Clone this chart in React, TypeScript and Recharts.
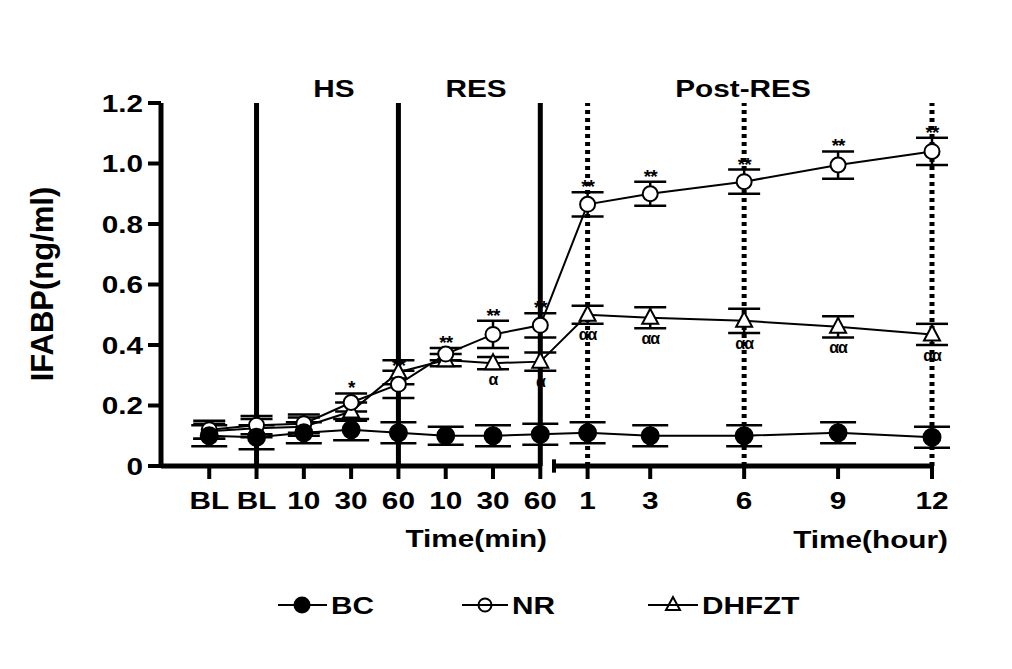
import { LineChart, Line, XAxis, YAxis, ErrorBar, ReferenceLine, Legend, LabelList, Customized } from "recharts"

// time points: minutes (categorical steps), then hours (linear)
const minuteLabels = ["BL", "BL", "10", "30", "60", "10", "30", "60"]
const hourTicks = [1, 3, 6, 9, 12]

const bcValues = [0.1, 0.095, 0.11, 0.12, 0.11, 0.1, 0.1, 0.105, 0.11, 0.1, 0.1, 0.11, 0.095]
const bcErrors = [0.035, 0.04, 0.035, 0.035, 0.035, 0.03, 0.035, 0.035, 0.035, 0.035, 0.035, 0.035, 0.035]

const nrValues = [0.12, 0.135, 0.14, 0.21, 0.27, 0.37, 0.435, 0.465, 0.865, 0.9, 0.94, 0.995, 1.04]
const nrErrors = [0.03, 0.03, 0.03, 0.03, 0.045, 0.02, 0.045, 0.04, 0.04, 0.04, 0.04, 0.045, 0.045]

const dhValues = [0.115, 0.125, 0.13, 0.18, 0.31, 0.35, 0.34, 0.345, 0.5, 0.49, 0.48, 0.46, 0.435]
const dhErrors = [0.025, 0.03, 0.03, 0.03, 0.04, 0.02, 0.02, 0.03, 0.03, 0.035, 0.04, 0.035, 0.035]

const nrMarks = ["", "", "", "*", "**", "**", "**", "**", "**", "**", "**", "**", "**"]
const dhMarks = ["", "", "", "", "", "", "α", "α", "αα", "αα", "αα", "αα", "αα"]

const HOUR_STEP = 0.662
const hourPos = (h: number) => minuteLabels.length + (h - 1) * HOUR_STEP

const positions = [...minuteLabels.map((_, i) => i), ...hourTicks.map(hourPos)]
const tickLabels = [...minuteLabels, ...hourTicks.map(String)]

const data = positions.map((pos, i) => ({
  pos,
  bc: bcValues[i],
  bcErr: bcErrors[i],
  nr: nrValues[i],
  nrErr: nrErrors[i],
  nrTop: nrValues[i] + nrErrors[i],
  nrMark: nrMarks[i],
  dh: dhValues[i],
  dhErr: dhErrors[i],
  dhBottom: dhValues[i] - dhErrors[i],
  dhMark: dhMarks[i],
}))

const FONT = "Arial, 'Liberation Sans', sans-serif"
const SX = 1.24

const SText = ({ x, y, anchor = "middle", size = 24, children }: any) => (
  <text
    transform={`translate(${x},${y}) scale(${SX},1)`}
    textAnchor={anchor}
    fontSize={size}
    fontFamily={FONT}
    fontWeight="bold"
    fill="#000"
  >
    {children}
  </text>
)

const XTick = ({ x, y, payload }: any) => {
  const idx = positions.findIndex((p) => Math.abs(p - payload.value) < 1e-6)
  return <SText x={x} y={y + 28}>{tickLabels[idx]}</SText>
}

const YTick = ({ x, y, payload }: any) => (
  <SText x={x} y={y + 8.5} anchor="end">
    {payload.value === 0 ? "0" : payload.value.toFixed(1)}
  </SText>
)

const TriangleDot = ({ cx, cy }: any) => {
  if (cx == null || cy == null) return null
  return (
    <polygon
      points={`${cx},${cy - 9} ${cx - 8},${cy + 6} ${cx + 8},${cy + 6}`}
      fill="#fff"
      stroke="#000"
      strokeWidth={2}
    />
  )
}

const MarkAbove = ({ x, y, value }: any) =>
  value ? (
    <text x={x} y={y + 1} textAnchor="middle" fontSize={19} fontWeight="bold" fontFamily={FONT} fill="#000" letterSpacing={-1}>
      {value}
    </text>
  ) : null

const MarkBelow = ({ x, y, value }: any) =>
  value ? (
    <text x={x} y={y + 16} textAnchor="middle" fontSize={16} fontWeight="bold" fontFamily={FONT} fill="#000" letterSpacing={-1}>
      {value}
    </text>
  ) : null

const Titles = () => (
  <g>
    <SText x={334} y={97}>HS</SText>
    <SText x={476} y={97}>RES</SText>
    <SText x={743} y={97}>Post-RES</SText>
    <SText x={547} y={547} anchor="end">Time(min)</SText>
    <SText x={948} y={548} anchor="end">Time(hour)</SText>
    <text
      transform="translate(53,284) rotate(-90)"
      textAnchor="middle"
      fontSize={31}
      fontFamily={FONT}
      fontWeight="bold"
      fill="#000"
    >
      IFABP(ng/ml)
    </text>
  </g>
)

const LegendBox = () => (
  <svg width={1012} height={40} style={{ display: "block" }}>
    <line x1={278} x2={327} y1={20} y2={20} stroke="#000" strokeWidth={2} />
    <circle cx={302} cy={20} r={8.5} fill="#000" />
    <SText x={331} y={29} anchor="start">BC</SText>
    <line x1={462} x2={508} y1={20} y2={20} stroke="#000" strokeWidth={2} />
    <circle cx={485} cy={20} r={6.5} fill="none" stroke="#000" strokeWidth={2} />
    <SText x={512} y={29} anchor="start">NR</SText>
    <line x1={648} x2={698} y1={20} y2={20} stroke="#000" strokeWidth={2} />
    <polygon points="673,12 666,25 680,25" fill="none" stroke="#000" strokeWidth={2} />
    <SText x={702} y={29} anchor="start">DHFZT</SText>
  </svg>
)

export default function App() {
  return (
    <div style={{ position: "absolute", left: 0, top: 0, width: 1012, height: 669, background: "#fff" }}>
      <LineChart width={1012} height={669} data={data} margin={{ top: 103, right: 80, left: 101, bottom: 143 }}>
        <XAxis
          dataKey="pos"
          type="number"
          domain={[-1.02, 15.28]}
          ticks={positions}
          axisLine={false}
          tickLine={{ stroke: "#000", strokeWidth: 4 }}
          tickSize={13}
          tick={<XTick />}
          height={60}
          interval={0}
        />
        <YAxis
          type="number"
          domain={[0, 1.2]}
          ticks={[0, 0.2, 0.4, 0.6, 0.8, 1.0, 1.2]}
          axisLine={{ stroke: "#000", strokeWidth: 5 }}
          tickLine={{ stroke: "#000", strokeWidth: 4 }}
          tickSize={13}
          tickMargin={5}
          tick={<YTick />}
          width={60}
        />
        <ReferenceLine segment={[{ x: -1.02, y: 0 }, { x: 7, y: 0 }]} stroke="#000" strokeWidth={5} ifOverflow="visible" />
        <ReferenceLine segment={[{ x: 7.29, y: 0 }, { x: 15.28, y: 0 }]} stroke="#000" strokeWidth={5} ifOverflow="visible" />
        <ReferenceLine segment={[{ x: 7.29, y: -0.022 }, { x: 7.29, y: 0.022 }]} stroke="#000" strokeWidth={4} ifOverflow="visible" />
        <ReferenceLine x={1} stroke="#000" strokeWidth={5} />
        <ReferenceLine x={4} stroke="#000" strokeWidth={5} />
        <ReferenceLine x={7} stroke="#000" strokeWidth={5} />
        <ReferenceLine x={hourPos(1)} stroke="#000" strokeWidth={5} strokeDasharray="4 4" />
        <ReferenceLine x={hourPos(6)} stroke="#000" strokeWidth={5} strokeDasharray="4 4" />
        <ReferenceLine x={hourPos(12)} stroke="#000" strokeWidth={5} strokeDasharray="4 4" ifOverflow="visible" />
        <Line dataKey="dh" stroke="#000" strokeWidth={2} dot={<TriangleDot />} activeDot={false} isAnimationActive={false}>
          <ErrorBar dataKey="dhErr" direction="y" width={16} stroke="#000" strokeWidth={2.5} />
        </Line>
        <Line dataKey="nr" stroke="#000" strokeWidth={2} dot={{ r: 7.5, fill: "#fff", stroke: "#000", strokeWidth: 2 }} activeDot={false} isAnimationActive={false}>
          <ErrorBar dataKey="nrErr" direction="y" width={16} stroke="#000" strokeWidth={2.5} />
        </Line>
        <Line dataKey="bc" stroke="#000" strokeWidth={2} dot={{ r: 8.5, fill: "#000", stroke: "#000" }} activeDot={false} isAnimationActive={false}>
          <ErrorBar dataKey="bcErr" direction="y" width={18} stroke="#000" strokeWidth={2.5} />
        </Line>
        <Line dataKey="nrTop" stroke="none" dot={false} activeDot={false} isAnimationActive={false}>
          <LabelList dataKey="nrMark" content={<MarkAbove />} />
        </Line>
        <Line dataKey="dhBottom" stroke="none" dot={false} activeDot={false} isAnimationActive={false}>
          <LabelList dataKey="dhMark" content={<MarkBelow />} />
        </Line>
        <Customized component={<Titles />} />
        <Legend
          verticalAlign="middle"
          content={<LegendBox />}
          wrapperStyle={{ position: "absolute", left: 0, top: 585, width: 1012, height: 40 }}
        />
      </LineChart>
    </div>
  )
}
